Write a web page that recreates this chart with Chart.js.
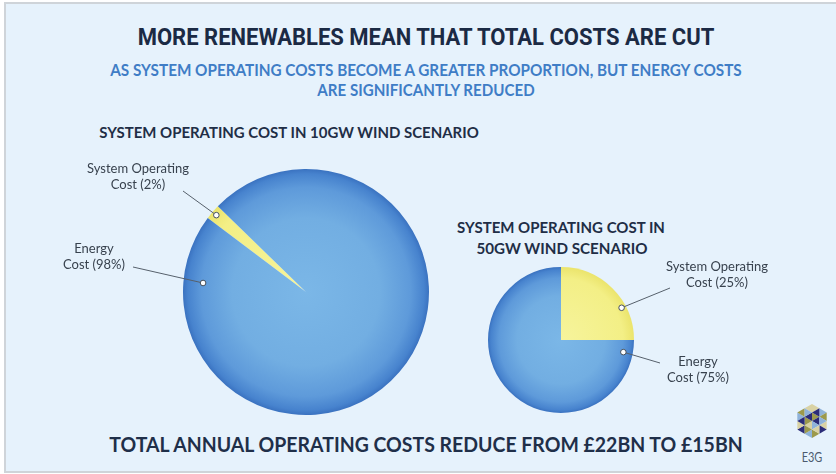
<!DOCTYPE html>
<html lang="en">
<head>
<meta charset="utf-8">
<title>More renewables mean that total costs are cut</title>
<script src="https://cdn.jsdelivr.net/npm/chart.js@4.4.1/dist/chart.umd.min.js"></script>
<style>
  body { margin: 0; width: 836px; height: 474px; overflow: hidden; position: relative; background: #fff; font-family: Lato, "Open Sans", sans-serif; }
  .panel { position: absolute; left: 4px; top: 2px; width: 840px; height: 467px; background: #e6f2fc;
           border-top: 2px solid #cfd4d9; border-left: 2px solid #cfd4d9; border-bottom: 2px solid #cfd4d9; }
  .txt { position: absolute; white-space: nowrap; line-height: 1; transform-origin: center center; }
  .title { font-family: Roboto, sans-serif; font-weight: 700; font-size: 24px; color: #1b2a44; }
  .sub { font-weight: 700; font-size: 17px; color: #3f7dc6; }
  .head { font-weight: 700; font-size: 15px; color: #1f2e46; }
  .foot { font-weight: 700; font-size: 21px; color: #1f2f49; }
  .logo-txt { font-size: 13px; color: #4b5a6e; }
  canvas { position: absolute; }
</style>
</head>
<body>
<div class="panel"></div>

<div class="txt title" data-x="426" data-y="37" data-w="577">MORE RENEWABLES MEAN THAT TOTAL COSTS ARE CUT</div>
<div class="txt sub" data-x="426" data-y="69" data-w="631">AS SYSTEM OPERATING COSTS BECOME A GREATER PROPORTION, BUT ENERGY COSTS</div>
<div class="txt sub" data-x="426" data-y="89" data-w="217">ARE SIGNIFICANTLY REDUCED</div>
<div class="txt head" data-x="289" data-y="132" data-w="380">SYSTEM OPERATING COST IN 10GW WIND SCENARIO</div>
<div class="txt head" data-x="561" data-y="227" data-w="208">SYSTEM OPERATING COST IN</div>
<div class="txt head" data-x="562" data-y="248" data-w="171">50GW WIND SCENARIO</div>
<div class="txt foot" data-x="426" data-y="443" data-w="633">TOTAL ANNUAL OPERATING COSTS REDUCE FROM £22BN TO £15BN</div>
<div class="txt logo-txt" data-x="812" data-y="457" data-w="21">E3G</div>

<svg id="logo" width="40" height="40" style="position:absolute;left:792px;top:401px"></svg>

<canvas id="pie10" width="420" height="280" style="left:40px;top:150px"></canvas>
<canvas id="pie50" width="340" height="180" style="left:450px;top:250px"></canvas>

<script>
  // cost split per scenario, in percent
  var categories = ['System Operating Cost', 'Energy Cost'];
  var share10GW = [2, 98];
  var share50GW = [25, 75];

  // squeeze or stretch each heading to its line width
  document.querySelectorAll('.txt').forEach(function (el) {
    var w = el.offsetWidth;
    var s = parseFloat(el.dataset.w) / w;
    el.style.left = el.dataset.x + 'px';
    el.style.top = el.dataset.y + 'px';
    el.style.transform = 'translate(-50%,-50%) scaleX(' + s.toFixed(3) + ')';
  });

  // E3G mark: hexagon split into small triangles
  (function () {
    var svg = document.getElementById('logo');
    var cx = 20, cy = 20, R = 17;
    var cols = ['#9c9a4c', '#2b2c78', '#8fb3da', '#d9d2a4'];
    var pts = [];
    for (var i = 0; i < 6; i++) {
      var a = (i * 60 - 90) * Math.PI / 180;
      pts.push([cx + R * Math.cos(a), cy + R * Math.sin(a)]);
    }
    var html = '';
    for (var k = 0; k < 6; k++) {
      var A = [cx, cy], B = pts[k], C = pts[(k + 1) % 6];
      var ab = [(A[0] + B[0]) / 2, (A[1] + B[1]) / 2];
      var bc = [(B[0] + C[0]) / 2, (B[1] + C[1]) / 2];
      var ca = [(C[0] + A[0]) / 2, (C[1] + A[1]) / 2];
      var tris = [[A, ab, ca], [ab, B, bc], [ca, bc, C], [ab, bc, ca]];
      tris.forEach(function (t, j) {
        html += '<polygon points="' + t.map(function (p) { return p[0].toFixed(1) + ',' + p[1].toFixed(1); }).join(' ') +
          '" fill="' + cols[(k + j * 3) % 4] + '"/>';
      });
    }
    svg.innerHTML = html;
  })();

  // radial shading: yellow for system operating cost, blue for energy cost
  function sliceFill(ctx) {
    var chart = ctx.chart, a = chart.chartArea;
    var yellow = ctx.dataIndex === 0;
    if (!a) return yellow ? '#f3f08a' : '#6aa6dc';
    var cx = (a.left + a.right) / 2, cy = (a.top + a.bottom) / 2;
    var r = Math.min(a.right - a.left, a.bottom - a.top) / 2;
    var g = chart.ctx.createRadialGradient(cx, cy, 0, cx, cy, r);
    if (yellow) {
      g.addColorStop(0, '#f6f49c');
      g.addColorStop(0.85, '#f3ef86');
      g.addColorStop(1, '#ebe46c');
    } else {
      g.addColorStop(0, '#7bb7e7');
      g.addColorStop(0.6, '#72aee2');
      g.addColorStop(0.85, '#5e9ada');
      g.addColorStop(0.96, '#4783ce');
      g.addColorStop(1, '#3a72c0');
    }
    return g;
  }

  // leader lines, dots and labels next to the slices
  var calloutPlugin = {
    id: 'callouts',
    afterDatasetsDraw: function (chart, args, opts) {
      var meta = chart.getDatasetMeta(0);
      var values = chart.data.datasets[0].data;
      var c = chart.ctx;
      c.save();
      opts.items.forEach(function (it) {
        var arc = meta.data[it.index];
        var p = arc.getProps(['x', 'y', 'outerRadius', 'startAngle', 'endAngle'], true);
        var ang = it.angle == null ? (p.startAngle + p.endAngle) / 2 : (it.angle - 90) * Math.PI / 180;
        var dx = p.x + Math.cos(ang) * p.outerRadius * it.r;
        var dy = p.y + Math.sin(ang) * p.outerRadius * it.r;
        c.strokeStyle = '#56606b';
        c.lineWidth = 1;
        c.beginPath();
        c.moveTo(p.x + it.lineTo[0], p.y + it.lineTo[1]);
        c.lineTo(dx, dy);
        c.stroke();
        c.beginPath();
        c.arc(dx, dy, 2.8, 0, Math.PI * 2);
        c.fillStyle = '#ffffff';
        c.fill();
        c.strokeStyle = '#46505c';
        c.stroke();
        c.font = '13px Lato, "Open Sans", sans-serif';
        c.fillStyle = '#38424e';
        c.textAlign = 'center';
        c.textBaseline = 'middle';
        var lines = it.index === 0 ? ['System Operating', 'Cost (' + values[0] + '%)'] : ['Energy', 'Cost (' + values[1] + '%)'];
        lines.forEach(function (t, i) {
          c.fillText(t, p.x + it.text[0], p.y + it.text[1] + i * 16);
        });
      });
      c.restore();
    }
  };

  function makePie(id, values, rotation, padding, items) {
    return new Chart(document.getElementById(id), {
      type: 'pie',
      data: {
        labels: categories,
        datasets: [{
          data: values,
          backgroundColor: sliceFill,
          borderWidth: 0,
          hoverOffset: 0
        }]
      },
      options: {
        responsive: false,
        animation: false,
        rotation: rotation,
        layout: { padding: padding },
        events: [],
        plugins: {
          legend: { display: false },
          tooltip: { enabled: false },
          callouts: { items: items }
        }
      },
      plugins: [calloutPlugin]
    });
  }

  makePie('pie10', share10GW, -53, { left: 143, top: 19, right: 31, bottom: 15 }, [
    { index: 0, angle: null, r: 0.96, lineTo: [-123, -101], text: [-168, -123] },
    { index: 1, angle: 275, r: 0.84, lineTo: [-173, -25], text: [-212, -43] }
  ]);

  makePie('pie50', share50GW, 0, { left: 38, top: 17, right: 156, bottom: 17 }, [
    { index: 0, angle: 62, r: 0.94, lineTo: [109, -52], text: [156, -73] },
    { index: 1, angle: 101, r: 0.87, lineTo: [99, 23], text: [137, 22] }
  ]);
</script>
</body>
</html>
